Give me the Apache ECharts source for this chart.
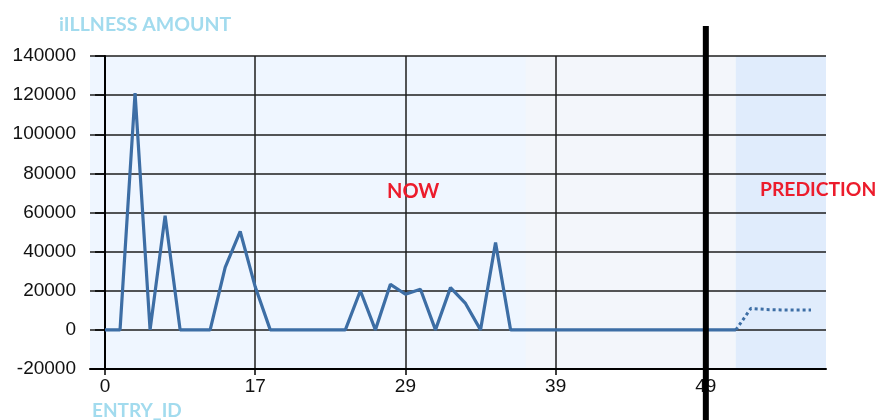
<!DOCTYPE html>
<html>
<head>
<meta charset="utf-8">
<script src="https://cdn.jsdelivr.net/npm/echarts@6/dist/echarts.min.js"></script>
<style>
  html, body { margin: 0; padding: 0; background: #ffffff; }
  #chart { width: 879px; height: 420px; }
</style>
</head>
<body>
<div id="chart"></div>
<script>
// Illness amount per entry (one value per entry slot, slot 0 is the first entry)
const illnessAmount = [
  0, 0, 121000, 0, 58300, 0, 0, 0, 32000, 50300,
  22000, 0, 0, 0, 0, 0, 0, 20000, 0, 23300,
  18200, 20800, 0, 21600, 13500, 0, 44600, 0, 0, 0,
  0, 0, 0, 0, 0, 0, 0, 0, 0, 0,
  0, 0, 0
];
// Forecast, starting at the last recorded slot
const predictionStart = 42;
const predictionAmount = [0, 11000, 10400, 10200, 10100, 10100];

// Entry-id tick labels and the slots they sit on
const tickSlots = [0, 10, 20, 30, 40];
const tickLabels = ['0', '17', '29', '39', '49'];

// Axis ranges
const xRange = [-1, 48];
const yRange = [-20000, 140000];
const yStep = 20000;

// Shaded spans and the "now" divider
const recentBand = [28, 42];
const predictionBand = [42, 48];
const nowSlot = 40;

const chart = echarts.init(document.getElementById('chart'), null, { renderer: 'canvas' });

const labelFont = 'Liberation Sans, Arial, sans-serif';
const headFont = 'Lato, sans-serif';

const headStyle = (size, color) => ({ fontFamily: headFont, fontWeight: 'bold', fontSize: size, color });

const option = {
  animation: false,
  backgroundColor: '#ffffff',
  title: [
    { text: 'iILLNESS AMOUNT', left: 59, top: 15, padding: 0, textStyle: headStyle(19.5, '#a2dbee') },
    { text: 'ENTRY_ID', left: 92, top: 401, padding: 0, textStyle: headStyle(19, '#a2dbee') },
    { text: 'NOW', left: 387, top: 182, padding: 0, textStyle: headStyle(20, '#ec1c2c') },
    { text: 'PREDICTION', left: 760, top: 180, padding: 0, textStyle: headStyle(19.3, '#ec1c2c') }
  ],
  grid: {
    left: 90, right: 53, top: 56, bottom: 51,
    show: true, backgroundColor: '#eff6ff', borderWidth: 0
  },
  xAxis: {
    type: 'value',
    min: xRange[0], max: xRange[1],
    z: 2,
    axisLine: { show: true, onZero: false, lineStyle: { color: '#000', width: 2 } },
    axisTick: { show: true, customValues: tickSlots, length: 6, lineStyle: { color: '#000', width: 1.5 } },
    axisLabel: {
      customValues: tickSlots,
      formatter: v => tickLabels[tickSlots.indexOf(v)],
      fontFamily: labelFont, fontSize: 19, color: '#111', margin: 8
    },
    splitLine: { show: true, lineStyle: { color: '#1e1e1e', width: 1.5 } }
  },
  yAxis: {
    type: 'value',
    min: yRange[0], max: yRange[1], interval: yStep,
    z: 2,
    axisLine: { show: true, lineStyle: { color: '#000', width: 2 } },
    axisTick: { show: true, length: 10, lineStyle: { color: '#000', width: 1.5 } },
    axisLabel: {
      formatter: v => String(v),
      fontFamily: labelFont, fontSize: 19, color: '#111', margin: 14
    },
    splitLine: { show: true, lineStyle: { color: '#1e1e1e', width: 1.5 } }
  },
  series: [
    {
      name: 'Illness amount',
      type: 'line',
      z: 3,
      symbol: 'none',
      data: illnessAmount.map((v, i) => [i, v]),
      lineStyle: { color: '#3d6ea5', width: 3.2 },
      markArea: {
        silent: true,
        z: 1,
        label: { show: false },
        data: [
          [{ xAxis: recentBand[0], itemStyle: { color: '#f3f6fb' } }, { xAxis: recentBand[1] }],
          [{ xAxis: predictionBand[0], itemStyle: { color: '#e0ecfc' } }, { xAxis: predictionBand[1] }]
        ]
      }
    },
    {
      name: 'Prediction',
      type: 'line',
      z: 3,
      symbol: 'none',
      data: predictionAmount.map((v, i) => [predictionStart + i, v]),
      lineStyle: { color: '#3d6ea5', width: 3, type: [3, 3] }
    }
  ]
};

chart.setOption(option);

// Thick divider marking the present, running past the plot to the page bottom
const dividerX = chart.convertToPixel({ xAxisIndex: 0 }, nowSlot);
chart.setOption({
  graphic: [{
    type: 'line', z: 10,
    shape: { x1: dividerX, y1: 26, x2: dividerX, y2: 420 },
    style: { stroke: '#000', lineWidth: 6 }
  }]
});
</script>
</body>
</html>
